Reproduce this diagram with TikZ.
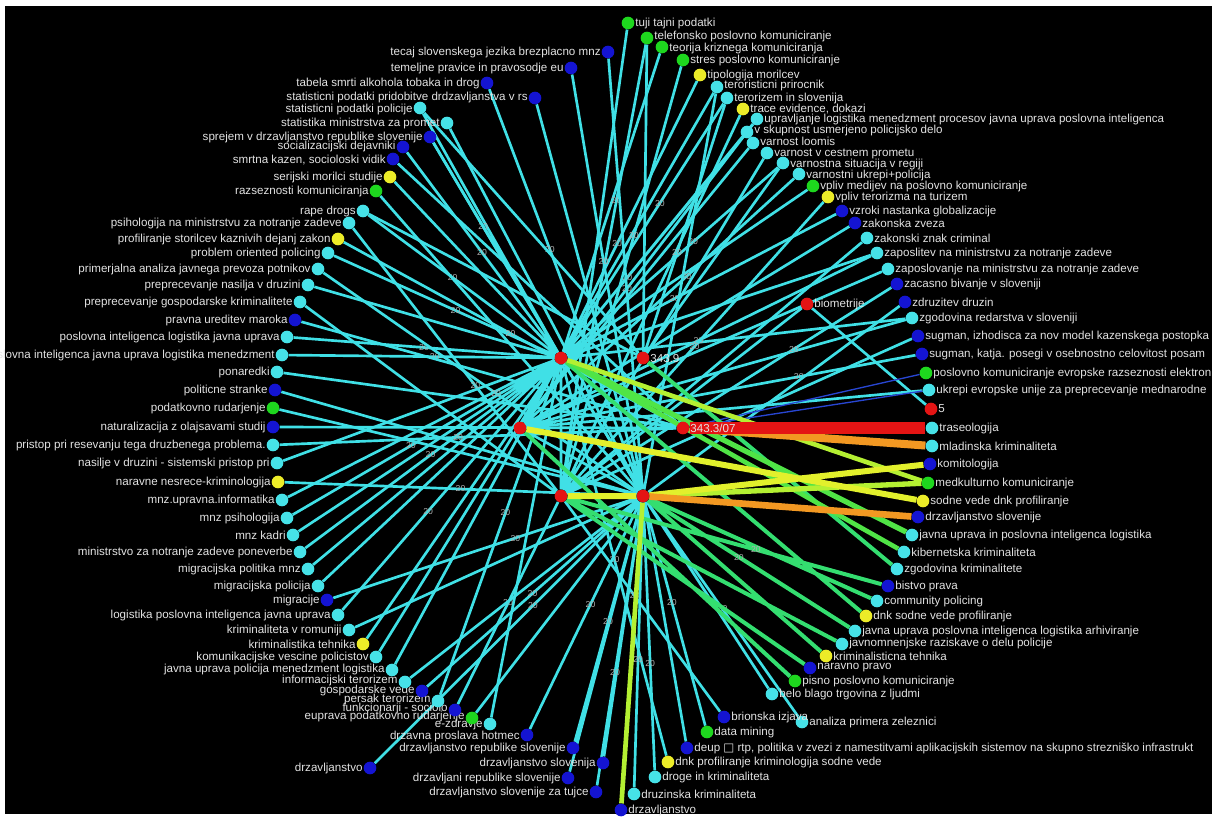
\documentclass[tikz,border=0pt]{standalone}
\usepackage{fontspec}
\setmainfont{Liberation Sans}
\newfontfamily\boxfont{DejaVu Sans}
\usepackage{tikz}
\usetikzlibrary{backgrounds}
\pgfdeclarelayer{edges}
\pgfsetlayers{background,edges,main}

\definecolor{ncyan}{RGB}{70,226,232}
\definecolor{ecyan}{RGB}{64,224,230}
\definecolor{nblue}{RGB}{20,20,210}
\definecolor{ngreen}{RGB}{30,215,30}
\definecolor{nyellow}{RGB}{236,236,40}
\definecolor{nred}{RGB}{228,20,20}
\definecolor{labgray}{RGB}{226,226,226}
\definecolor{elabgray}{RGB}{175,175,175}
\definecolor{eorange}{RGB}{242,152,34}
\definecolor{eyellow}{RGB}{226,240,44}
\definecolor{eyg}{RGB}{180,240,50}
\definecolor{egreen}{RGB}{80,228,70}
\definecolor{egreenb}{RGB}{52,222,112}
\definecolor{eblue}{RGB}{40,70,210}

\begin{document}
\begin{tikzpicture}[x=0.75pt,y=0.75pt,yscale=-1,xscale=1,
  cd/.style={circle,inner sep=0pt,minimum size=9.5pt,fill=ncyan},
  bd/.style={circle,inner sep=0pt,minimum size=9.5pt,fill=nblue},
  gd/.style={circle,inner sep=0pt,minimum size=9.5pt,fill=ngreen},
  yd/.style={circle,inner sep=0pt,minimum size=9.5pt,fill=nyellow},
  rd/.style={circle,inner sep=0pt,minimum size=9.5pt,fill=nred},
  lab/.style={text=labgray,font=\fontsize{8.7}{9}\selectfont,inner sep=0.4pt},
  elab/.style={text=elabgray,font=\fontsize{6.5}{7}\selectfont,inner sep=0pt},
  ce/.style={draw=ecyan,line width=2pt},
  ge/.style={draw=egreenb,line width=3pt}]
\useasboundingbox (0,0) rectangle (1216,818);

%Shape: Rectangle (frame and black ground)
\begin{pgfonlayer}{background}
\fill [white] (0,0) rectangle (1216,818);
\fill [black] (5,6) rectangle (1212,814);
\end{pgfonlayer}

% Hubs
\node [rd] (hA) at (561,358) {};
\node [rd,label={[lab]right:343.9}] (hB) at (643,358) {};
\node [rd] (hC) at (520,428) {};
\node [rd,label={[lab]right:343.3/07}] (hD) at (683,428) {};
\node [rd] (hE) at (561,496) {};
\node [rd] (hF) at (643,496) {};
\node [rd,label={[lab]right:biometrije}] (hBio) at (807,304) {};

% Right arc
\node [gd,label={[lab]right:tuji tajni podatki}] (r1) at (628,23) {};
\node [gd,label={[lab,yshift=1pt]right:telefonsko poslovno komuniciranje}] (r2) at (647,38) {};
\node [gd,label={[lab,yshift=-1pt]right:teorija kriznega komuniciranja}] (r3) at (662,47) {};
\node [gd,label={[lab]right:stres poslovno komuniciranje}] (r4) at (683,60) {};
\node [yd,label={[lab]right:tipologija morilcev}] (r5) at (700,75) {};
\node [cd,label={[lab,yshift=1pt]right:teroristicni prirocnik}] (r6) at (717,87) {};
\node [cd,label={[lab,yshift=-0.5pt]right:terorizem in slovenija}] (r7) at (727,98) {};
\node [yd,label={[lab]right:{trace evidence, dokazi}}] (r8) at (743,109) {};
\node [cd,label={[lab]right:upravljanje logistika menedzment procesov javna uprava poslovna inteligenca}] (r9) at (757,119) {};
\node [cd,label={[lab,yshift=1pt]right:v skupnost usmerjeno policijsko delo}] (r10) at (747,132) {};
\node [cd,label={[lab,yshift=1pt]right:varnost loomis}] (r11) at (753,143) {};
\node [cd,label={[lab,yshift=-1pt]right:varnost v cestnem prometu}] (r12) at (767,153) {};
\node [cd,label={[lab,yshift=-1pt]right:varnostna situacija v regiji}] (r13) at (783,163) {};
\node [cd,label={[lab,yshift=-1pt]right:varnostni ukrepi+policija}] (r14) at (799,174) {};
\node [gd,label={[lab]right:vpliv medijev na poslovno komuniciranje}] (r15) at (813,186) {};
\node [yd,label={[lab]right:vpliv terorizma na turizem}] (r16) at (828,197) {};
\node [bd,label={[lab]right:vzroki nastanka globalizacije}] (r17) at (842,211) {};
\node [bd,label={[lab]right:zakonska zveza}] (r18) at (855,223) {};
\node [cd,label={[lab]right:zakonski znak criminal}] (r19) at (867,238) {};
\node [cd,label={[lab]right:zaposlitev na ministrstvu za notranje zadeve}] (r20) at (877,253) {};
\node [cd,label={[lab]right:zaposlovanje na ministrstvu za notranje zadeve}] (r21) at (888,269) {};
\node [bd,label={[lab]right:zacasno bivanje v sloveniji}] (r22) at (897,284) {};
\node [bd,label={[lab]right:zdruzitev druzin}] (r23) at (905,302) {};
\node [cd,label={[lab]right:zgodovina redarstva v sloveniji}] (r24) at (912,318) {};
\node [bd,label={[lab]right:{sugman, izhodisca za nov model kazenskega postopka}}] (r25) at (918,336) {};
\node [bd,label={[lab]right:{sugman, katja. posegi v osebnostno celovitost posam}}] (r26) at (922,354) {};
\node [gd,label={[lab]right:poslovno komuniciranje evropske razseznosti elektron}] (r27) at (926,373) {};
\node [cd,label={[lab]right:ukrepi evropske unije za preprecevanje mednarodne}] (r28) at (929,390) {};
\node [rd,label={[lab]right:5}] (r29) at (931,409) {};
\node [cd,label={[lab]right:traseologija}] (r30) at (932,428) {};
\node [cd,label={[lab]right:mladinska kriminaliteta}] (r31) at (932,446) {};
\node [bd,label={[lab]right:komitologija}] (r32) at (930,464) {};
\node [gd,label={[lab]right:medkulturno komuniciranje}] (r33) at (928,483) {};
\node [yd,label={[lab]right:sodne vede dnk profiliranje}] (r34) at (923,501) {};
\node [bd,label={[lab]right:drzavljanstvo slovenije}] (r35) at (918,517) {};
\node [cd,label={[lab]right:javna uprava in poslovna inteligenca logistika}] (r36) at (912,535) {};
\node [cd,label={[lab]right:kibernetska kriminaliteta}] (r37) at (904,552) {};
\node [cd,label={[lab]right:zgodovina kriminalitete}] (r38) at (897,569) {};
\node [bd,label={[lab]right:bistvo prava}] (r39) at (888,586) {};
\node [cd,label={[lab]right:community policing}] (r40) at (877,601) {};
\node [yd,label={[lab]right:dnk sodne vede profiliranje}] (r41) at (866,616) {};
\node [cd,label={[lab]right:javna uprava poslovna inteligenca logistika arhiviranje}] (r42) at (855,631) {};
\node [cd,label={[lab,yshift=0.5pt]right:javnomnenjske raziskave o delu policije}] (r43) at (842,644) {};
\node [yd,label={[lab]right:kriminalisticna tehnika}] (r44) at (826,656) {};
\node [bd,label={[lab]right:naravno pravo}] (r45) at (810,668) {};
\node [gd,label={[lab]right:pisno poslovno komuniciranje}] (r46) at (795,681) {};
\node [cd,label={[lab]right:belo blago trgovina z ljudmi}] (r47) at (772,694) {};
\node [cd,label={[lab]right:analiza primera zeleznici}] (r48) at (802,722) {};
\node [bd,label={[lab]right:brionska izjava}] (r49) at (724,717) {};
\node [gd,label={[lab]right:data mining}] (r50) at (707,732) {};
\node [bd,label={[lab]right:{deup {\boxfont □} rtp, politika v zvezi z namestitvami aplikacijskih sistemov na skupno strezniško infrastrukt}}] (r51) at (687,748) {};
\node [yd,label={[lab]right:dnk profiliranje kriminologija sodne vede}] (r52) at (668,762) {};
\node [cd,label={[lab]right:droge in kriminaliteta}] (r53) at (655,777) {};
\node [cd,label={[lab]right:druzinska kriminaliteta}] (r54) at (634,794) {};
\node [bd,label={[lab]right:drzavljanstvo}] (r55) at (621,810) {};

% Bottom arc
\node [bd,label={[lab]left:drzavljanstvo slovenija}] (b1) at (603,763) {};
\node [bd,label={[lab]left:drzavljanstvo republike slovenije}] (b2) at (573,748) {};
\node [bd,label={[lab]left:drzavljani republike slovenije}] (b3) at (568,778) {};
\node [bd,label={[lab]left:drzavljanstvo slovenije za tujce}] (b4) at (596,792) {};
\node [bd,label={[lab,yshift=-1pt]left:drzavna proslava hotmec}] (b5) at (527,735) {};
\node [cd,label={[lab]left:e-zdravje}] (b6) at (490,724) {};
\node [gd,label={[lab,yshift=1.5pt]left:euprava podatkovno rudarjenje}] (b7) at (472,718) {};
\node [bd,label={[lab,yshift=1.5pt]left:funkcionarji - sociolo}] (b8) at (455,710) {};
\node [cd,label={[lab,yshift=1.5pt]left:persak terorizem}] (b9) at (438,701) {};
\node [bd,label={[lab,yshift=0.5pt]left:gospodarske vede}] (b10) at (422,691) {};
\node [bd,label={[lab]left:drzavljanstvo}] (b11) at (370,768) {};

% Left arc
\node [bd,label={[lab]left:tecaj slovenskega jezika brezplacno mnz}] (l1) at (608,52) {};
\node [bd,label={[lab]left:temeljne pravice in pravosodje eu}] (l2) at (571,68) {};
\node [bd,label={[lab]left:tabela smrti alkohola tobaka in drog}] (l3) at (487,83) {};
\node [bd,label={[lab,yshift=0.5pt]left:statisticni podatki pridobitve drdzavljanstva v rs}] (l4) at (535,98) {};
\node [cd,label={[lab,yshift=-1pt]left:statisticni podatki policije}] (l5) at (420,108) {};
\node [cd,label={[lab]left:statistika ministrstva za promet}] (l6) at (447,123) {};
\node [bd,label={[lab]left:sprejem v drzavljanstvo republike slovenije}] (l7) at (430,137) {};
\node [bd,label={[lab,yshift=0.5pt]left:socializacijski dejavniki}] (l8) at (403,147) {};
\node [bd,label={[lab,yshift=-1pt]left:{smrtna kazen, socioloski vidik}}] (l9) at (393,159) {};
\node [yd,label={[lab]left:serijski morilci studije}] (l10) at (390,177) {};
\node [gd,label={[lab]left:razseznosti komuniciranja}] (l11) at (376,191) {};
\node [cd,label={[lab]left:rape drogs}] (l12) at (363,211) {};
\node [cd,label={[lab]left:psihologija na ministrstvu za notranje zadeve}] (l13) at (349,223) {};
\node [yd,label={[lab]left:profiliranje storilcev kaznivih dejanj zakon}] (l14) at (338,239) {};
\node [cd,label={[lab]left:problem oriented policing}] (l15) at (328,253) {};
\node [cd,label={[lab]left:primerjalna analiza javnega prevoza potnikov}] (l16) at (318,269) {};
\node [cd,label={[lab]left:preprecevanje nasilja v druzini}] (l17) at (308,285) {};
\node [cd,label={[lab]left:preprecevanje gospodarske kriminalitete}] (l18) at (300,302) {};
\node [bd,label={[lab]left:pravna ureditev maroka}] (l19) at (295,320) {};
\node [cd,label={[lab]left:poslovna inteligenca logistika javna uprava}] (l20) at (287,337) {};
\node [cd,label={[lab]left:poslovna inteligenca javna uprava logistika menedzment}] (l21) at (282,355) {};
\node [cd,label={[lab]left:ponaredki}] (l22) at (277,372) {};
\node [bd,label={[lab]left:politicne stranke}] (l23) at (275,390) {};
\node [gd,label={[lab]left:podatkovno rudarjenje}] (l24) at (273,408) {};
\node [bd,label={[lab]left:naturalizacija z olajsavami studij}] (l25) at (273,427) {};
\node [cd,label={[lab]left:pristop pri resevanju tega druzbenega problema.}] (l26) at (273,445) {};
\node [cd,label={[lab]left:nasilje v druzini - sistemski pristop pri}] (l27) at (277,463) {};
\node [yd,label={[lab]left:naravne nesrece-kriminologija}] (l28) at (278,482) {};
\node [cd,label={[lab]left:mnz.upravna.informatika}] (l29) at (282,500) {};
\node [cd,label={[lab]left:mnz psihologija}] (l30) at (287,518) {};
\node [cd,label={[lab]left:mnz kadri}] (l31) at (293,535) {};
\node [cd,label={[lab]left:ministrstvo za notranje zadeve poneverbe}] (l32) at (300,552) {};
\node [cd,label={[lab]left:migracijska politika mnz}] (l33) at (308,569) {};
\node [cd,label={[lab]left:migracijska policija}] (l34) at (318,586) {};
\node [bd,label={[lab]left:migracije}] (l35) at (327,600) {};
\node [cd,label={[lab]left:logistika poslovna inteligenca javna uprava}] (l36) at (338,615) {};
\node [cd,label={[lab]left:kriminaliteta v romuniji}] (l37) at (349,630) {};
\node [yd,label={[lab]left:kriminalistika tehnika}] (l38) at (363,644) {};
\node [cd,label={[lab]left:komunikacijske vescine policistov}] (l39) at (376,657) {};
\node [cd,label={[lab,yshift=0.5pt]left:javna uprava policija menedzment logistika}] (l40) at (392,670) {};
\node [cd,label={[lab,yshift=1.5pt]left:informacijski terorizem}] (l41) at (405,682) {};

\begin{pgfonlayer}{edges}
%Straight Lines: cyan links
\draw [ce] (hA) -- (r3) (hA) -- node[elab,pos=.4]{20} (r5) (hA) -- node[elab,pos=.6]{20} (r7) (hA) -- (r9) (hA) -- node[elab,pos=.35]{20} (r10)
  (hA) -- node[elab,pos=.6]{20} (r13) (hA) -- (r15) (hA) -- node[elab,pos=.4]{20} (r17) (hA) -- (r20) (hA) -- (r24)
  (hA) -- (b6) (hA) -- node[elab,pos=.45]{20} (b9) (hA) -- node[elab,pos=.5]{20} (r52)
  (hA) -- (l5) (hA) -- node[elab,pos=.6]{20} (l7) (hA) -- node[elab,pos=.5]{20} (l8) (hA) -- (l10) (hA) -- node[elab,pos=.55]{20} (l12) (hA) -- node[elab,pos=.45]{20} (l15)
  (hA) -- (l17) (hA) -- node[elab,pos=.5]{20} (l20) (hA) -- node[elab,pos=.45]{20} (l21) (hA) -- (l27) (hA) -- (l29) (hA) -- node[elab,pos=.55]{20} (l30)
  (hA) -- (l31) (hA) -- node[elab,pos=.5]{20} (l32) (hA) -- (l33) (hA) -- (l34) (hA) -- node[elab,pos=.6]{20} (l36) (hA) -- (l38) (hA) -- (l39) (hA) -- (l40);
\draw [ce] (hC) -- (r6) (hC) -- node[elab,pos=.45]{20} (r9) (hC) -- (r11) (hC) -- node[elab,pos=.6]{20} (r14) (hC) -- (r18) (hC) -- node[elab,pos=.5]{20} (r20)
  (hC) -- (r21) (hC) -- (r24) (hC) -- node[elab,pos=.7]{20} (r26) (hC) -- (r28);
\draw [ce] (hE) -- (r1) (hE) -- node[elab,pos=.65]{20} (r2) (hE) -- node[elab,pos=.6]{20} (r4) (hE) -- (r8) (hE) -- (r12) (hE) -- node[elab,pos=.5]{20} (r16)
  (hE) -- (r19) (hE) -- node[elab,pos=.7]{20} (r22) (hE) -- (r25) (hE) -- node[elab,pos=.45]{20} (r49) (hE) -- node[elab,pos=.5]{20} (b8) (hE) -- node[elab,pos=.4]{20} (l13) (hE) -- (l18);
\draw [ce] (hF) -- (r6) (hF) -- (r23) (hF) -- (r47) (hF) -- node[elab,pos=.5]{20} (r48) (hF) -- node[elab,pos=.45]{20} (r50) (hF) -- (r51)
  (hF) -- node[elab,pos=.6]{20} (r53) (hF) -- node[elab,pos=.55]{20} (r54)
  (hF) -- (b1) (hF) -- node[elab,pos=.5]{20} (b2) (hF) -- (b3) (hF) -- node[elab,pos=.6]{20} (b4) (hF) -- node[elab,pos=.45]{20} (b5) (hF) -- (b7)
  (hF) -- node[elab,pos=.5]{20} (b10) (hF) -- node[elab,pos=.4]{20} (b11)
  (hF) -- (l1) (hF) -- node[elab,pos=.55]{20} (l2) (hF) -- node[elab,pos=.6]{20} (l3) (hF) -- (l4) (hF) -- (l6) (hF) -- (l7) (hF) -- (l11)
  (hF) -- node[elab,pos=.45]{20} (l16) (hF) -- (l23) (hF) -- (l24) (hF) -- node[elab,pos=.5]{20} (l28) (hF) -- node[elab,pos=.4]{20} (l35)
  (hF) -- (l37) (hF) -- (l41);
\draw [ce] (hD) -- (l9) (hD) -- node[elab,pos=.5]{20} (l14) (hD) -- (l19) (hD) -- (l22) (hD) -- (l25) (hD) -- node[elab,pos=.55]{20} (l26);
\draw [ce] (hB) -- (r2) (hB) -- node[elab,pos=.4]{20} (r7) (hB) -- (r13) (hB) -- (l5) (hB) -- (l12);
\draw [ce] (hA) -- (hF) (hA) -- (hE) (hC) -- (hF) (hBio) -- (r29) (hBio) -- (hE);
%Straight Lines: thin blue links
\draw [eblue,line width=1pt] (hD) -- (r27) (hD) -- (r28);
%Straight Lines: green links
\draw [ge] (hB) -- (r38) (hE) -- node[elab,pos=.6]{20} (r39) (hF) -- (r40) (hA) -- (r41) (hF) -- node[elab,pos=.45]{20} (r42)
  (hE) -- (r43) (hF) -- (r44) (hE) -- (r45) (hC) -- (r46);
\draw [egreen,line width=4pt] (hA) -- (r36);
\draw [egreen,line width=3.5pt] (hA) -- (r37);
\draw [eyg,line width=3.5pt] (hA) -- (r33) (hF) -- (r55);
%Straight Lines: heavy links
\draw [eyg,line width=4pt] (hF) -- (r33);
\draw [eyellow,line width=4.5pt] (hE) -- (hF) (hC) -- (r34) (hF) -- (r32);
\draw [eorange,line width=5pt] (hF) -- (r35);
\draw [eorange,line width=6pt] (hD) -- (r31);
\draw [nred,line width=9pt] (hD) -- (r30);
\end{pgfonlayer}

\end{tikzpicture}
\end{document}
